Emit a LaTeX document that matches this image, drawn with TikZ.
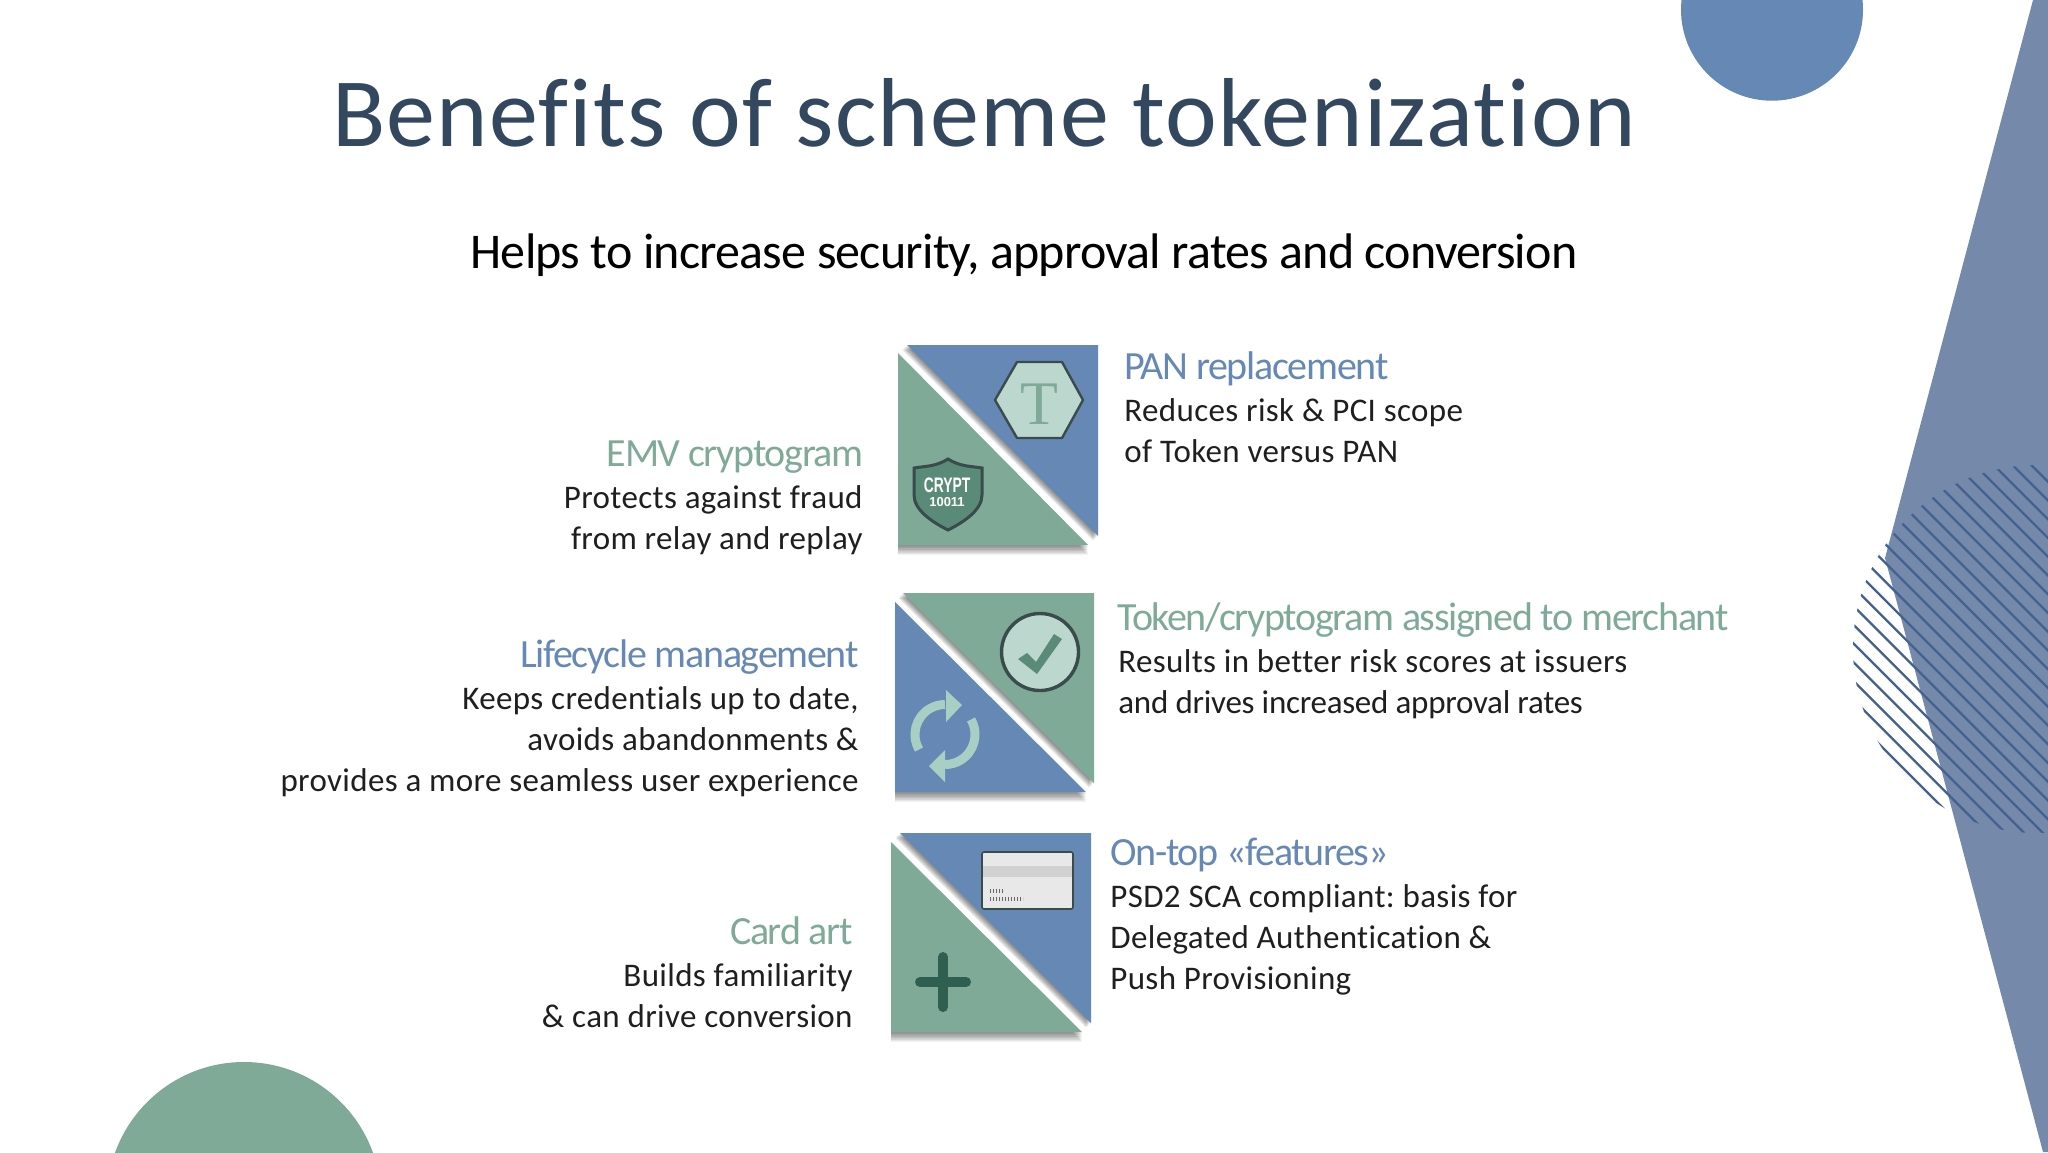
\documentclass[tikz,border=0pt]{standalone}
\usepackage{fontspec}
\setmainfont{Carlito}[LetterSpace=1.1,Ligatures=NoCommon]
\newfontfamily\titlef{Carlito}[LetterSpace=1.3,Ligatures=NoCommon]
\newfontfamily\subf{Carlito}[LetterSpace=-1.6,Ligatures=NoCommon]
\newfontfamily\headf{Carlito}[LetterSpace=-3.3,Ligatures=NoCommon]
\newfontfamily\tightf{Carlito}[LetterSpace=-0.8,Ligatures=NoCommon]
\usetikzlibrary{calc}
\definecolor{tgreen}{HTML}{7FAA98}
\definecolor{tblue}{HTML}{6588B5}
\definecolor{polyb}{HTML}{7589AB}
\definecolor{titlec}{HTML}{33485F}
\definecolor{hatchc}{HTML}{44628F}
\definecolor{darkic}{HTML}{3A4B4C}
\definecolor{lightg}{HTML}{BCD8CE}
\definecolor{refr}{HTML}{A9CFC4}
\definecolor{midg}{HTML}{5A8A78}
\definecolor{plusc}{HTML}{2F5F50}
\newcommand{\softshadow}[5]{%
  \foreach \s in {1,...,6}{\fill[black,opacity=0.085] ($(#1)+(\s*#4,\s*#5)$) -- ($(#2)+(\s*#4,\s*#5)$) -- ($(#3)+(\s*#4,\s*#5)$) -- cycle;}}
\tikzset{
  body/.style={inner sep=0pt,font=\frenchspacing\fontsize{16.5}{16.5}\selectfont,text=black!88},
  bodyr/.style={body,anchor=base east},
  bodyl/.style={body,anchor=base west},
  head/.style={inner sep=0pt,font=\headf\fontsize{20}{20}\selectfont},
  headr/.style={head,anchor=base east},
  headl/.style={head,anchor=base west},
}
\begin{document}
\begin{tikzpicture}[x=0.5pt,y=-0.5pt]
\useasboundingbox (0,0) rectangle (2048,1152);
\fill[white] (0,0) rectangle (2048,1152);
% decoration
\fill[tblue] (1772,9.7) circle (91);
\fill[tgreen] (244,1199) circle (137);
\fill[polyb] (2033,0) -- (2048,0) -- (2048,1152) -- (2043,1152) -- (1885,558) -- cycle;
\begin{scope}
\clip (2037,649) circle (184);
\foreach \k in {0,...,26}{
  \pgfmathsetmacro{\c}{-1135-18.75*\k}
  \draw[hatchc,line width=1.2pt] (1700,1700+\c) -- (2100,2100+\c);
}
\end{scope}
% title
\node[inner sep=0pt,anchor=base,font=\titlef\fontsize{49}{49}\selectfont,text=titlec] (title) at (984,146) {Benefits of scheme tokenization};
\node[inner sep=0pt,anchor=base,font=\subf\fontsize{25}{25}\selectfont,text=black] (sub) at (1024,268) {Helps to increase security, approval rates and conversion};
% square 1
\softshadow{898,353}{898,545}{1088,545}{0}{1.6}
\softshadow{907,345}{1098,345}{1098,536}{-0.8}{0.8}
\fill[tgreen] (898,353) -- (898,545) -- (1088,545) -- cycle;
\fill[tblue] (907,345) -- (1098,345) -- (1098,536) -- cycle;
\draw[darkic,line width=1.2pt,fill=lightg,line join=round] (995,400) -- (1017,362) -- (1062,362) -- (1083,400) -- (1062,438) -- (1017,438) -- cycle;
\node[inner sep=0pt,font=\fontspec{Liberation Serif}\fontsize{31}{31}\selectfont,text=tgreen] (tglyph) at (1039,404) {T};
\draw[darkic,line width=1.5pt,fill=midg] (948,459) .. controls (935,467) and (925,466) .. (914,468) -- (914,495) .. controls (914,510) and (932,522) .. (948,530) .. controls (964,522) and (982,510) .. (982,495) -- (982,468) .. controls (971,466) and (961,467) .. (948,459) -- cycle;
\node[inner sep=0pt,font=\fontspec{Liberation Sans}\bfseries\fontsize{10.5}{10.5}\selectfont,text=white,xscale=0.66,transform shape] (crypt) at (947,485) {CRYPT};
\node[inner sep=0pt,font=\fontspec{Liberation Sans}\bfseries\fontsize{6.5}{6.5}\selectfont,text=white] (num) at (947,502) {10011};
% square 2
\softshadow{895,602}{895,792}{1086,792}{0}{1.6}
\softshadow{903,593}{1094,593}{1094,783}{-0.8}{0.8}
\fill[tblue] (895,602) -- (895,792) -- (1086,792) -- cycle;
\fill[tgreen] (903,593) -- (1094,593) -- (1094,783) -- cycle;
\draw[darkic,line width=1.7pt,fill=lightg] (1040,652) circle (38.5);
\fill[midg] (1018,659) -- (1027,653) -- (1036,662) -- (1054,634) -- (1062,639) -- (1037,674) -- cycle;
\draw[refr,line width=4.5pt] (919,749.5) arc[start angle=150,end angle=270,radius=30];
\fill[refr] (946,690) -- (962,705) -- (946,722) -- cycle;
\draw[refr,line width=4.5pt] (971,719.5) arc[start angle=-30,end angle=90,radius=30];
\fill[refr] (945,750) -- (929,766) -- (945,782) -- cycle;
% square 3
\softshadow{891,842}{891,1032}{1082,1032}{0}{1.6}
\softshadow{900,833}{1091,833}{1091,1023}{-0.8}{0.8}
\fill[tgreen] (891,842) -- (891,1032) -- (1082,1032) -- cycle;
\fill[tblue] (900,833) -- (1091,833) -- (1091,1023) -- cycle;
\draw[fill=black!9,draw=none] (982,852) rectangle (1073,909);
\fill[black!18] (982,866) rectangle (1073,877);
\draw[darkic,line width=0.8pt,rounded corners=1pt] (982,852) rectangle (1073,909);
\draw[black!60,line width=2.4pt,dash pattern=on 0.6pt off 0.9pt] (990,891) -- (1004,891);
\draw[black!60,line width=2.4pt,dash pattern=on 0.6pt off 0.9pt] (990,899) -- (1023,899);
\draw[plusc,line width=5pt,line cap=round] (920,982) -- (966,982);
\draw[plusc,line width=5pt,line cap=round] (943,957) -- (943,1007);
% texts
\node[headr,text=tgreen] (h1) at (864,466) {EMV cryptogram};
\node[bodyr] (t1a) at (863,508) {Protects against fraud};
\node[bodyr] (t1b) at (863,549) {from relay and replay};
\node[headr,text=tblue] (h2) at (859,667) {Lifecycle management};
\node[bodyr] (t2a) at (859,709) {Keeps credentials up to date,};
\node[bodyr] (t2b) at (859,750) {avoids abandonments \&};
\node[bodyr] (t2c) at (859,791) {provides a more seamless user experience};
\node[headr,text=tgreen] (h3) at (853,944) {Card art};
\node[bodyr] (t3a) at (853,986) {Builds familiarity};
\node[bodyr] (t3b) at (853,1027) {\& can drive conversion};
\node[headl,text=tblue] (h4) at (1124,379) {PAN replacement};
\node[bodyl] (t4a) at (1124,421) {Reduces risk \& PCI scope};
\node[bodyl] (t4b) at (1124,462) {of Token versus PAN};
\node[headl,text=tgreen] (h5) at (1117,630) {Token/cryptogram assigned to merchant};
\node[bodyl] (t5a) at (1118,672) {Results in better risk scores at issuers};
\node[bodyl,font=\tightf\frenchspacing\fontsize{16.5}{16.5}\selectfont] (t5b) at (1118,713) {and drives increased approval rates};
\node[headl,text=tblue] (h6) at (1110,865) {On-top «features»};
\node[bodyl] (t6a) at (1110,907) {PSD2 SCA compliant: basis for};
\node[bodyl] (t6b) at (1110,948) {Delegated Authentication \&};
\node[bodyl] (t6c) at (1110,989) {Push Provisioning};
\end{tikzpicture}
\end{document}
